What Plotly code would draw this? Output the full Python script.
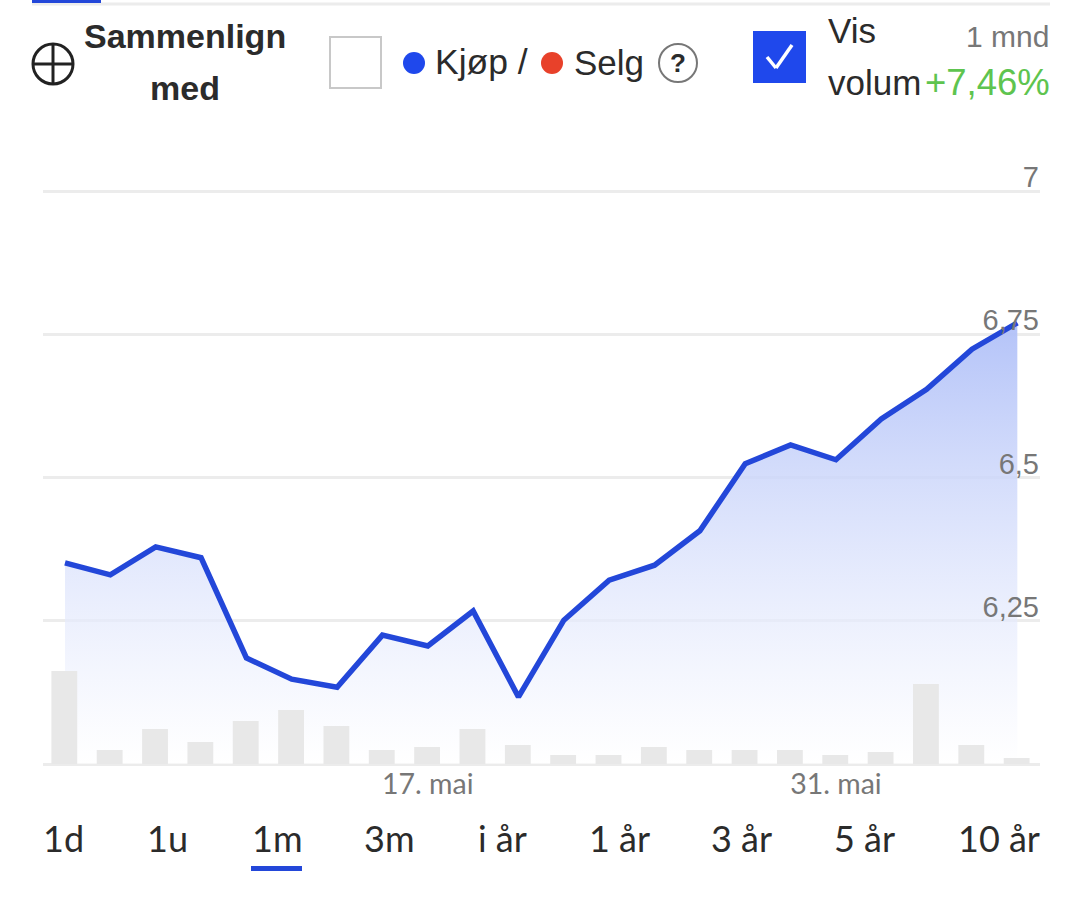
import plotly.graph_objects as go

W = 1080
H = 921

dates = ["6. mai", "7. mai", "8. mai", "9. mai", "10. mai", "13. mai", "14. mai", "15. mai", "17. mai",
         "21. mai", "22. mai", "23. mai", "24. mai", "27. mai", "28. mai", "29. mai", "30. mai", "31. mai",
         "3. jun", "4. jun", "5. jun", "6. jun"]
price = [6.351, 6.33, 6.379, 6.36, 6.185, 6.148, 6.134, 6.225, 6.206, 6.267, 6.117,
         6.251, 6.321, 6.347, 6.407, 6.524, 6.557, 6.531, 6.602, 6.654, 6.724, 6.77]
volume = [93, 14, 35, 22, 43, 54, 38, 14, 17, 35, 19, 9, 9, 17, 14, 14, 14, 9, 12, 80, 19, 6]

x_ticks = ["17. mai", "31. mai"]
y_ticks = [6.25, 6.5, 6.75, 7]
y_labels = ["6,25", "6,5", "6,75", "7"]
periods = ["1d", "1u", "1m", "3m", "i år", "1 år", "3 år", "5 år", "10 år"]
period_x = [63, 167, 277, 389, 502, 619, 741, 864, 999]

BLUE = "#2347d9"
SANS = "Liberation Sans"
LATO = "Lato"


def px(x):
    return x / W


def py(y):
    return 1 - y / H


def label(fig, text, x, y, size, color="#2b2b2b", anchor="center", font=SANS):
    fig.add_annotation(text=text, x=px(x), y=py(y), xref="paper", yref="paper", showarrow=False,
                       xanchor=anchor, yanchor="middle", align="center",
                       font=dict(family=font, size=size, color=color))


def box(fig, x0, y0, x1, y1, fill, line=None, width=0):
    fig.add_shape(type="rect", xref="paper", yref="paper", x0=px(x0), x1=px(x1), y0=py(y0), y1=py(y1),
                  fillcolor=fill, line=dict(color=line, width=width))


def circle(fig, cx, cy, r, fill, line=None, width=0):
    fig.add_shape(type="circle", xref="paper", yref="paper", x0=px(cx - r), x1=px(cx + r),
                  y0=py(cy - r), y1=py(cy + r), fillcolor=fill, line=dict(color=line, width=width))


def seg(fig, x0, y0, x1, y1, color, width):
    fig.add_shape(type="line", xref="paper", yref="paper", x0=px(x0), x1=px(x1), y0=py(y0), y1=py(y1),
                  line=dict(color=color, width=width))


fig = go.Figure()

fig.add_scatter(x=dates, y=price, mode="lines", line=dict(color=BLUE, width=5.5), fill="tozeroy",
                fillgradient=dict(type="vertical", start=6, stop=6.77,
                                  colorscale=[[0, "rgba(255,255,255,0.6)"], [1, "rgba(176,192,248,0.95)"]]),
                showlegend=False, hoverinfo="skip")
fig.add_bar(x=dates, y=volume, yaxis="y2", width=0.57, offset=-0.3, marker=dict(color="#e8e8e8", line=dict(width=0)),
            showlegend=False, hoverinfo="skip")

# top of the range sits above 7 so the 7 gridline and label are kept
fig.update_layout(
    width=W, height=H, margin=dict(l=0, r=0, t=0, b=0), paper_bgcolor="white", plot_bgcolor="white",
    xaxis=dict(type="category", categoryorder="array", categoryarray=dates, range=[-0.485, 21.5],
               domain=[px(43), px(1040)], tickmode="array", tickvals=x_ticks, ticktext=x_ticks, showgrid=False,
               zeroline=False, showline=False, ticks="", ticklabelstandoff=0,
               tickfont=dict(family=LATO, size=28.5, color="#777777")),
    yaxis=dict(range=[6, 7.1], domain=[py(764), py(133.7)], side="right", tickmode="array", tickvals=y_ticks,
               ticktext=y_labels, showgrid=True, gridcolor="#ececec", gridwidth=3, zeroline=False, showline=False,
               ticks="", ticklabelposition="inside", ticklabelshift=-14, ticklabelstandoff=-2,
               tickfont=dict(family=SANS, size=29, color="#777777")),
    yaxis2=dict(range=[0, 630.3], domain=[py(764), py(133.7)], overlaying="y", showgrid=False, zeroline=True,
                zerolinecolor="#ececec", zerolinewidth=3, showticklabels=False, ticks="", showline=False),
)

# top bar
seg(fig, 32, 4, 1050, 4, "#ececec", 3)
box(fig, 32, 0, 101, 3, BLUE)

# compare button
circle(fig, 53, 64, 20, "white", "#222222", 3)
seg(fig, 33, 64, 73, 64, "#222222", 3)
seg(fig, 53, 44, 53, 84, "#222222", 3)
label(fig, "<b>Sammenlign</b>", 185, 36, 34)
label(fig, "<b>med</b>", 185, 88, 34)

# buy / sell toggle
box(fig, 330, 37, 381, 88, "white", "#c8c8c8", 2)
circle(fig, 414, 63, 11, "#1f48ec")
label(fig, "Kjøp /", 433, 62, 35.5, anchor="left")
circle(fig, 552, 63, 11, "#e8412a")
label(fig, "Selg", 572, 62, 35, anchor="left")
circle(fig, 678, 63, 19, "white", "#777777", 2)
label(fig, "<b>?</b>", 678, 63, 26)

# volume checkbox
box(fig, 753, 31, 806, 83, "#1f48ec")
seg(fig, 767, 57, 776, 68, "white", 3.5)
seg(fig, 776, 68, 792, 45, "white", 3.5)
label(fig, "Vis", 826, 30, 35, anchor="left")
label(fig, "volum", 826, 82, 35, anchor="left")
label(fig, "1 mnd", 1051, 36, 30, "#777777", anchor="right")
label(fig, "+7,46%", 1052, 82, 36.5, "#5ec44f", anchor="right")

# period selector
for name, x in zip(periods, period_x):
    label(fig, name, x, 838, 36, "#2b2b2b", font=LATO)
box(fig, 251, 866, 302, 871, BLUE)

# page margin off, the figure fills the window
fig.write_html("out.html", config=dict(displayModeBar=False),
               post_script="document.body.style.margin='0';document.documentElement.style.overflow='hidden';")
